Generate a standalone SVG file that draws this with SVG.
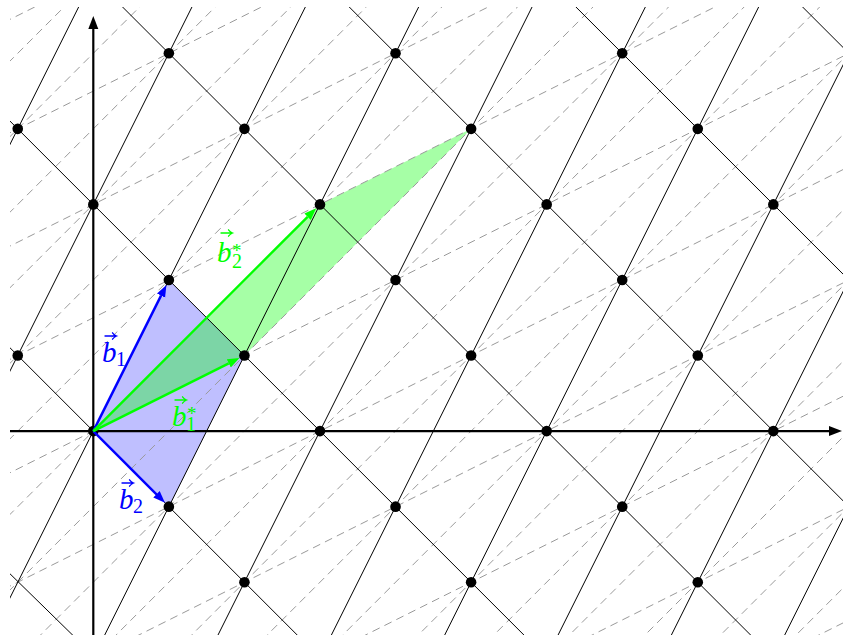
<svg xmlns="http://www.w3.org/2000/svg" width="843" height="635" viewBox="0 0 843 635">
<style>
.sol{stroke:#000;stroke-width:1;fill:none}
.dsh{stroke:#9a9a9a;stroke-width:1;fill:none;stroke-dasharray:8 5.3}
.axis{stroke:#000;stroke-width:2.2;fill:none}
.vb{stroke:#0000ff;stroke-width:2.4;fill:none}
.vg{stroke:#00ff00;stroke-width:2.4;fill:none}
.dot{fill:#000}
.lbl{font-family:"Liberation Serif","DejaVu Serif",serif;font-style:italic;font-size:29px}
.sub{font-family:"Liberation Serif","DejaVu Serif",serif;font-style:normal;font-size:20px}
.star{font-family:"Liberation Serif","DejaVu Serif",serif;font-style:normal;font-size:19px}
</style>
<defs>
<clipPath id="clip"><rect x="10" y="7" width="833" height="628"/></clipPath>
<marker id="ab" markerUnits="userSpaceOnUse" markerWidth="12" markerHeight="10" viewBox="0 -5 12 10" refX="0" refY="0" orient="auto"><path d="M0,-4.5 L12,0 L0,4.5 Z" fill="#0000ff"/></marker>
<marker id="ag" markerUnits="userSpaceOnUse" markerWidth="12" markerHeight="10" viewBox="0 -5 12 10" refX="0" refY="0" orient="auto"><path d="M0,-4.5 L12,0 L0,4.5 Z" fill="#00ff00"/></marker>
<marker id="ak" markerUnits="userSpaceOnUse" markerWidth="13" markerHeight="12" viewBox="0 -6 13 12" refX="0" refY="0" orient="auto"><path d="M0,-5 L13,0 L0,5 Z" fill="#000"/></marker>
<symbol id="vec" overflow="visible"><path d="M0,0 H11 M7.5,-3.2 Q9,-1 11.6,0 Q9,1 7.5,3.2" fill="none" stroke="currentColor" stroke-width="1.3" stroke-linecap="round"/></symbol>
</defs>

<g id="regions">
<polygon id="blue-region" points="93.3,431.1 168.86,279.98 244.42,355.54 168.86,506.66" fill="#0000ff" fill-opacity="0.25"/>
<polygon id="green-region" points="93.3,431.1 244.42,355.54 471.1,128.86 319.98,204.42" fill="#00ff00" fill-opacity="0.35"/>
</g>

<g id="connectors" clip-path="url(#clip)">
<g id="dashed-half">
<line class="dsh" x1="-20.04" y1="1054.47" x2="886.7" y2="601.11"/>
<line class="dsh" x1="-20.04" y1="941.13" x2="886.7" y2="487.77"/>
<line class="dsh" x1="-20.04" y1="827.79" x2="886.7" y2="374.43"/>
<line class="dsh" x1="-20.04" y1="714.45" x2="886.7" y2="261.09"/>
<line class="dsh" x1="-20.04" y1="601.11" x2="886.7" y2="147.75"/>
<line class="dsh" x1="-20.04" y1="487.77" x2="886.7" y2="34.41"/>
<line class="dsh" x1="-20.04" y1="374.43" x2="886.7" y2="-78.93"/>
<line class="dsh" x1="-20.04" y1="261.09" x2="886.7" y2="-192.27"/>
<line class="dsh" x1="-20.04" y1="147.75" x2="886.7" y2="-305.61"/>
<line class="dsh" x1="-20.04" y1="34.41" x2="886.7" y2="-418.95"/>
</g>
<g id="dashed-one">
<line class="dsh" x1="-20.04" y1="1451.16" x2="886.7" y2="544.44"/>
<line class="dsh" x1="-20.04" y1="1375.6" x2="886.7" y2="468.88"/>
<line class="dsh" x1="-20.04" y1="1300.04" x2="886.7" y2="393.32"/>
<line class="dsh" x1="-20.04" y1="1224.48" x2="886.7" y2="317.76"/>
<line class="dsh" x1="-20.04" y1="1148.92" x2="886.7" y2="242.2"/>
<line class="dsh" x1="-20.04" y1="1073.36" x2="886.7" y2="166.64"/>
<line class="dsh" x1="-20.04" y1="997.8" x2="886.7" y2="91.08"/>
<line class="dsh" x1="-20.04" y1="922.24" x2="886.7" y2="15.52"/>
<line class="dsh" x1="-20.04" y1="846.68" x2="886.7" y2="-60.04"/>
<line class="dsh" x1="-20.04" y1="771.12" x2="886.7" y2="-135.6"/>
<line class="dsh" x1="-20.04" y1="695.56" x2="886.7" y2="-211.16"/>
<line class="dsh" x1="-20.04" y1="620" x2="886.7" y2="-286.72"/>
<line class="dsh" x1="-20.04" y1="544.44" x2="886.7" y2="-362.28"/>
<line class="dsh" x1="-20.04" y1="468.88" x2="886.7" y2="-437.84"/>
<line class="dsh" x1="-20.04" y1="393.32" x2="886.7" y2="-513.4"/>
<line class="dsh" x1="-20.04" y1="317.76" x2="886.7" y2="-588.96"/>
<line class="dsh" x1="-20.04" y1="242.2" x2="886.7" y2="-664.52"/>
<line class="dsh" x1="-20.04" y1="166.64" x2="886.7" y2="-740.08"/>
<line class="dsh" x1="-20.04" y1="91.08" x2="886.7" y2="-815.64"/>
</g>
<g id="solid-steep">
<line class="sol" x1="-246.7" y1="657.8" x2="93.3" y2="-22.3"/>
<line class="sol" x1="-133.4" y1="657.8" x2="206.6" y2="-22.3"/>
<line class="sol" x1="-20" y1="657.8" x2="320" y2="-22.3"/>
<line class="sol" x1="93.3" y1="657.8" x2="433.3" y2="-22.3"/>
<line class="sol" x1="206.6" y1="657.8" x2="546.7" y2="-22.3"/>
<line class="sol" x1="320" y1="657.8" x2="660" y2="-22.3"/>
<line class="sol" x1="433.3" y1="657.8" x2="773.3" y2="-22.3"/>
<line class="sol" x1="546.7" y1="657.8" x2="886.7" y2="-22.3"/>
<line class="sol" x1="660" y1="657.8" x2="1000" y2="-22.3"/>
<line class="sol" x1="773.3" y1="657.8" x2="1113.4" y2="-22.3"/>
</g>
<g id="solid-down">
<line class="sol" x1="-20.04" y1="544.44" x2="886.7" y2="1431.2"/>
<line class="sol" x1="-20.04" y1="317.76" x2="886.7" y2="1224.5"/>
<line class="sol" x1="-20.04" y1="91.08" x2="886.7" y2="997.8"/>
<line class="sol" x1="-20.04" y1="-135.6" x2="886.7" y2="771.1"/>
<line class="sol" x1="-20.04" y1="-362.3" x2="886.7" y2="544.44"/>
<line class="sol" x1="-20.04" y1="-589" x2="886.7" y2="317.76"/>
<line class="sol" x1="-20.04" y1="-815.6" x2="886.7" y2="91.08"/>
</g>
</g>

<g id="axes">
<line id="x-axis" class="axis" x1="10" y1="431.1" x2="829" y2="431.1" marker-end="url(#ak)"/>
<line id="y-axis" class="axis" x1="93.3" y1="635" x2="93.3" y2="29" marker-end="url(#ak)"/>
</g>

<g id="lattice-points">
<circle class="dot" cx="168.86" cy="53.3" r="5.3"/>
<circle class="dot" cx="395.54" cy="53.3" r="5.3"/>
<circle class="dot" cx="622.22" cy="53.3" r="5.3"/>
<circle class="dot" cx="17.74" cy="128.86" r="5.3"/>
<circle class="dot" cx="244.42" cy="128.86" r="5.3"/>
<circle class="dot" cx="471.1" cy="128.86" r="5.3"/>
<circle class="dot" cx="697.78" cy="128.86" r="5.3"/>
<circle class="dot" cx="93.3" cy="204.42" r="5.3"/>
<circle class="dot" cx="319.98" cy="204.42" r="5.3"/>
<circle class="dot" cx="546.66" cy="204.42" r="5.3"/>
<circle class="dot" cx="773.34" cy="204.42" r="5.3"/>
<circle class="dot" cx="168.86" cy="279.98" r="5.3"/>
<circle class="dot" cx="395.54" cy="279.98" r="5.3"/>
<circle class="dot" cx="622.22" cy="279.98" r="5.3"/>
<circle class="dot" cx="17.74" cy="355.54" r="5.3"/>
<circle class="dot" cx="244.42" cy="355.54" r="5.3"/>
<circle class="dot" cx="471.1" cy="355.54" r="5.3"/>
<circle class="dot" cx="697.78" cy="355.54" r="5.3"/>
<circle class="dot" cx="93.3" cy="431.1" r="5.3"/>
<circle class="dot" cx="319.98" cy="431.1" r="5.3"/>
<circle class="dot" cx="546.66" cy="431.1" r="5.3"/>
<circle class="dot" cx="773.34" cy="431.1" r="5.3"/>
<circle class="dot" cx="168.86" cy="506.66" r="5.3"/>
<circle class="dot" cx="395.54" cy="506.66" r="5.3"/>
<circle class="dot" cx="622.22" cy="506.66" r="5.3"/>
<circle class="dot" cx="244.42" cy="582.22" r="5.3"/>
<circle class="dot" cx="471.1" cy="582.22" r="5.3"/>
<circle class="dot" cx="697.78" cy="582.22" r="5.3"/>
</g>

<g id="vector-b1" color="#0000ff">
<line class="vb" x1="93.3" y1="431.1" x2="161.03" y2="295.63" marker-end="url(#ab)"/>
<use href="#vec" x="105" y="336"/>
<text fill="#0000ff"><tspan class="lbl" x="102" y="362">b</tspan><tspan class="sub" x="116" y="366">1</tspan></text>
</g>
<g id="vector-b2" color="#0000ff">
<line class="vb" x1="93.3" y1="431.1" x2="156.48" y2="494.28" marker-end="url(#ab)"/>
<use href="#vec" x="122" y="483"/>
<text fill="#0000ff"><tspan class="lbl" x="119" y="509">b</tspan><tspan class="sub" x="133" y="513">2</tspan></text>
</g>
<g id="vector-b1star" color="#00ff00">
<line class="vg" x1="93.3" y1="431.1" x2="228.77" y2="363.37" marker-end="url(#ag)"/>
<use href="#vec" x="175" y="400"/>
<text fill="#00ff00"><tspan class="lbl" x="172" y="426">b</tspan><tspan class="star" x="187" y="420">*</tspan><tspan class="sub" x="186" y="431">1</tspan></text>
</g>
<g id="vector-b2star" color="#00ff00">
<line class="vg" x1="93.3" y1="431.1" x2="307.6" y2="216.8" marker-end="url(#ag)"/>
<use href="#vec" x="221" y="233"/>
<text fill="#00ff00"><tspan class="lbl" x="217" y="262">b</tspan><tspan class="star" x="232" y="257">*</tspan><tspan class="sub" x="232" y="268">2</tspan></text>
</g>
</svg>
